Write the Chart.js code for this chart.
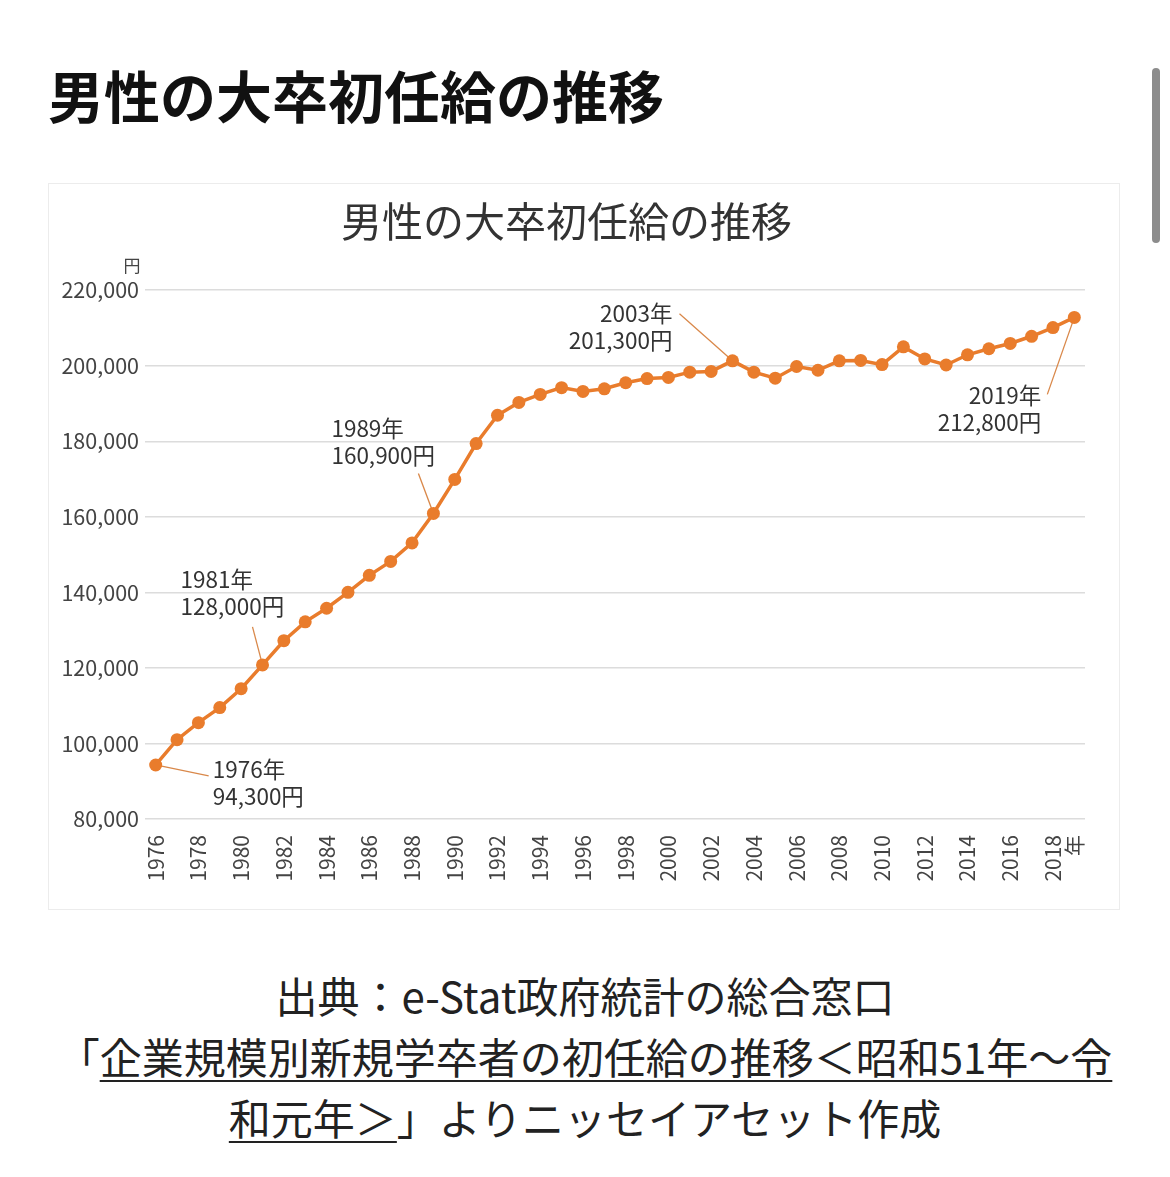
<!DOCTYPE html>
<html lang="ja">
<head>
<meta charset="utf-8">
<script src="https://cdn.jsdelivr.net/npm/chart.js@4.4.1/dist/chart.umd.min.js"></script>
<style>
body{margin:0;background:#fff;font-family:"Noto Sans CJK JP",sans-serif;}
#page{position:relative;width:1170px;height:1177px;overflow:hidden;}
h1{position:absolute;left:48px;top:61px;margin:0;font-size:56px;font-weight:700;color:#111;line-height:66px;white-space:nowrap;}
#frame{position:absolute;left:48px;top:183px;width:1072px;height:727px;border:1px solid #ececec;box-sizing:border-box;}
#wrap{position:absolute;left:48px;top:183px;width:1072px;height:727px;}
#src{position:absolute;left:0;width:1170px;top:964px;text-align:center;font-size:42px;line-height:61px;color:#222;white-space:nowrap;}
#src u{text-decoration-thickness:2px;text-underline-offset:6px;}
#scroll{position:absolute;left:1152px;top:68px;width:8px;height:175px;border-radius:4px;background:#8c8c8c;}
</style>
</head>
<body>
<div id="page">
  <h1>男性の大卒初任給の推移</h1>
  <div id="scroll"></div>
  <div id="frame"></div>
  <div id="wrap"><canvas id="myChart" width="1072" height="727"></canvas></div>
  <div id="src">
    出典：e-Stat政府統計の総合窓口<br>
    「<u>企業規模別新規学卒者の初任給の推移＜昭和51年～令</u><br>
    <u>和元年＞</u>」よりニッセイアセット作成
  </div>
</div>
<script>
// 男性・大卒初任給（円）
const years = ['1976','1977','1978','1979','1980','1981','1982','1983','1984','1985',
  '1986','1987','1988','1989','1990','1991','1992','1993','1994','1995',
  '1996','1997','1998','1999','2000','2001','2002','2003','2004','2005',
  '2006','2007','2008','2009','2010','2011','2012','2013','2014','2015',
  '2016','2017','2018','2019'];
const salary = [94300,101000,105500,109500,114500,120800,127200,132200,135800,140000,
  144500,148200,153100,160900,169900,179400,186900,190300,192400,194200,
  193200,193900,195500,196600,196900,198300,198500,201300,198300,196700,
  199800,198800,201300,201400,200300,205000,201800,200200,202900,204500,
  205900,207800,210100,212800];
const yTicks = [80000,100000,120000,140000,160000,180000,200000,220000];
const chartTitle = '男性の大卒初任給の推移';
const yUnit = '円';
const xUnit = '年';

// 吹き出し
const notes = [
  {year:'1976', lines:['1976年','94,300円']},
  {year:'1981', lines:['1981年','128,000円']},
  {year:'1989', lines:['1989年','160,900円']},
  {year:'2003', lines:['2003年','201,300円']},
  {year:'2019', lines:['2019年','212,800円']}
];
// offsets from the point: text anchor (tx,ty), leader line end (lx,ly)
const noteLayout = [
  {tx:57, ty:4, align:'left', lx:53, ly:11},
  {tx:-82, ty:-85, align:'left', lx:-10, ly:-38},
  {tx:-102, ty:-85, align:'left', lx:-15, ly:-40},
  {tx:-60, ty:-47, align:'right', lx:-53, ly:-47},
  {tx:-33, ty:78, align:'right', lx:-27, ly:77}
];

const orange = '#e97c2c';
const fontName = '"Noto Sans CJK JP", "Noto Sans", sans-serif';

const notePlugin = {
  id: 'notes',
  beforeDatasetsDraw(chart){
    const ctx = chart.ctx;
    const meta = chart.getDatasetMeta(0);
    ctx.save();
    ctx.strokeStyle = '#d9884a';
    ctx.lineWidth = 1.3;
    notes.forEach((n, i) => {
      const p = meta.data[years.indexOf(n.year)];
      const o = noteLayout[i];
      ctx.beginPath();
      ctx.moveTo(p.x + o.lx, p.y + o.ly);
      ctx.lineTo(p.x, p.y);
      ctx.stroke();
    });
    ctx.restore();
  },
  afterDatasetsDraw(chart){
    const ctx = chart.ctx;
    const meta = chart.getDatasetMeta(0);
    ctx.save();
    ctx.fillStyle = '#333';
    ctx.textBaseline = 'middle';
    ctx.font = '22.5px ' + fontName;
    notes.forEach((n, i) => {
      const p = meta.data[years.indexOf(n.year)];
      const o = noteLayout[i];
      ctx.textAlign = o.align;
      n.lines.forEach((t, k) => ctx.fillText(t, p.x + o.tx, p.y + o.ty + k*27));
    });
    ctx.font = '17px ' + fontName;
    ctx.textAlign = 'center';
    ctx.fillStyle = '#444';
    ctx.fillText(yUnit, chart.chartArea.left - 13, chart.chartArea.top - 25);
    ctx.restore();
  }
};

new Chart('myChart', {
  type: 'line',
  data: {
    labels: years,
    datasets: [{
      data: salary,
      borderColor: orange,
      backgroundColor: orange,
      borderWidth: 3.5,
      pointRadius: 6.5,
      pointBorderWidth: 0,
      tension: 0
    }]
  },
  options: {
    responsive: false,
    devicePixelRatio: 1,
    animation: false,
    layout: {padding: {left: 0, right: 35, top: 0, bottom: 0}},
    plugins: {
      legend: {display: false},
      tooltip: {enabled: false},
      title: {
        display: true,
        text: chartTitle,
        color: '#333',
        font: {family: fontName, size: 41, weight: 'normal'},
        padding: {top: 14, bottom: 44}
      }
    },
    scales: {
      x: {
        offset: true,
        grid: {display: false},
        border: {display: false},
        afterFit: (s) => { s.height = 91; },
        ticks: {
          autoSkip: false,
          maxRotation: 90,
          minRotation: 90,
          padding: 8,
          color: '#444',
          font: {family: fontName, size: 21},
          callback: function(v, i){
            if (i === years.length - 1) return xUnit;
            return (+years[i]) % 2 === 0 ? years[i] : '';
          }
        }
      },
      y: {
        min: yTicks[0],
        max: yTicks[yTicks.length - 1],
        afterFit: (s) => { s.width = 97; },
        afterBuildTicks: (s) => { s.ticks = yTicks.map(v => ({value: v})); },
        border: {display: false},
        grid: {color: '#dcdcdc', lineWidth: 1.5, drawTicks: false},
        ticks: {
          padding: 6,
          color: '#444',
          font: {family: fontName, size: 21.5},
          callback: (v) => v.toLocaleString('en-US')
        }
      }
    }
  },
  plugins: [notePlugin]
});
</script>
</body>
</html>
